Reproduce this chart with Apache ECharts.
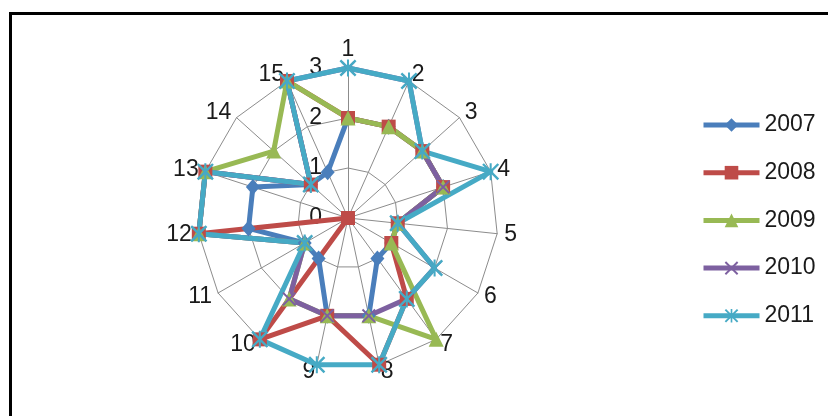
<!DOCTYPE html>
<html>
<head>
<meta charset="utf-8">
<script src="https://cdn.jsdelivr.net/npm/echarts@6/dist/echarts.min.js"></script>
<style>
  html, body { margin: 0; padding: 0; background: #fff; }
  #chart { width: 828px; height: 416px; }
</style>
</head>
<body>
<div id="chart"></div>
<script>
// ---- data ----
const indicatorNames = ['1','2','3','4','5','6','7','8','9','10','11','12','13','14','15'];
const radialMax = 3;
const years = ['2007','2008','2009','2010','2011'];
const s2007 = [2,2,2,2,1,1,1,2,2,1,1,2,2,1,1];
const s2008 = [2,2,2,2,1,1,2,3,2,3,0,3,3,1,3];
const s2009 = [2,2,2,2,1,1,3,2,2,2,1,3,3,2,3];
const s2010 = [3,3,2,2,1,2,2,2,2,2,1,3,3,1,3];
const s2011 = [3,3,2,3,1,2,2,3,3,3,1,3,3,1,3];

// ---- styling ----
const seriesValues = [s2007, s2008, s2009, s2010, s2011];
const colors = ['#4A7EBB', '#BE4B48', '#98B954', '#7D60A0', '#46AAC5'];
const X_PATH = 'path://M0,1 L1,0 L10,9 L9,10 Z M1,10 L0,9 L9,0 L10,1 Z';
const AST_PATH = 'path://M0,1 L1,0 L10,9 L9,10 Z M1,10 L0,9 L9,0 L10,1 Z M4.4,0 L5.6,0 L5.6,10 L4.4,10 Z';
const symbols = ['diamond', 'rect', 'triangle', X_PATH, AST_PATH];
const symbolSizes = [[14, 16], 14, 15, 14, 17];
const FONT = 'Liberation Sans';
const LINE_W = 5;

// ECharts radar runs counter-clockwise; reorder so the chart reads clockwise from the top
const order = [0];
for (let i = indicatorNames.length - 1; i >= 1; i--) order.push(i);

const indicators = order.map(function (i, k) {
  const ind = { name: indicatorNames[i], min: 0, max: radialMax };
  if (k === 0) ind.axisLabel = { show: true };
  return ind;
});

const radarData = years.map(function (y, si) {
  return {
    name: y,
    value: order.map(function (i) { return seriesValues[si][i]; }),
    symbol: symbols[si],
    symbolSize: symbolSizes[si],
    lineStyle: { color: colors[si], width: LINE_W },
    itemStyle: { color: colors[si] }
  };
});

// line series (no points) only to give the legend Excel-like line+marker keys
const legendSeries = years.map(function (y, si) {
  return {
    type: 'line',
    name: y,
    data: [],
    symbol: symbols[si],
    lineStyle: { color: colors[si], width: LINE_W },
    itemStyle: { color: colors[si] },
    xAxisIndex: 0,
    yAxisIndex: 0
  };
});

const chart = echarts.init(document.getElementById('chart'), null, { renderer: 'canvas' });
chart.setOption({
  animation: false,
  backgroundColor: '#fff',
  textStyle: { fontFamily: FONT },
  graphic: [{
    type: 'rect',
    shape: { x: 10.5, y: 13.5, width: 1000, height: 1000 },
    style: { fill: 'none', stroke: '#000', lineWidth: 3 },
    silent: true
  }],
  grid: { left: 0, top: 0, width: 1, height: 1, show: false },
  xAxis: { type: 'value', show: false },
  yAxis: { type: 'value', show: false },
  legend: {
    orient: 'vertical',
    left: 696,
    top: 108,
    itemWidth: 56,
    itemHeight: 17,
    itemGap: 23.7,
    data: years,
    lineStyle: { width: LINE_W },
    textStyle: { fontFamily: FONT, fontSize: 23, color: '#1a1a1a', lineHeight: 24 },
    selectedMode: false
  },
  radar: {
    center: [348, 218],
    radius: 150,
    shape: 'polygon',
    splitNumber: 3,
    startAngle: 90,
    indicator: indicators,
    nameGap: 7,
    axisName: { color: '#1a1a1a', fontFamily: FONT, fontSize: 23 },
    axisLine: { show: true, lineStyle: { color: '#8c8c8c', width: 1 } },
    splitLine: { show: true, lineStyle: { color: '#8c8c8c', width: 1 } },
    splitArea: { show: false },
    axisTick: { show: false },
    axisLabel: { show: false, margin: 26, color: '#1a1a1a', fontFamily: FONT, fontSize: 23 }
  },
  series: [{
    type: 'radar',
    name: 'values',
    data: radarData
  }].concat(legendSeries)
});
</script>
</body>
</html>
